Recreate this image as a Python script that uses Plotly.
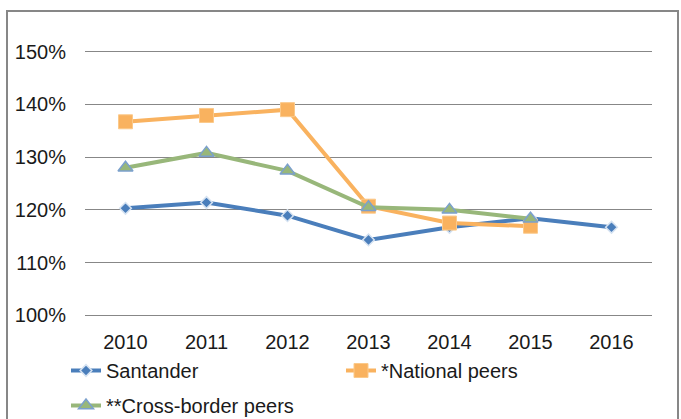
import plotly.graph_objects as go

years = ["2010", "2011", "2012", "2013", "2014", "2015", "2016"]
santander = [120.3, 121.4, 118.9, 114.3, 116.7, 118.4, 116.7]
national_peers = [136.7, 137.9, 139.0, 120.7, 117.5, 116.9]
cross_border = [128.0, 130.8, 127.4, 120.5, 120.0, 118.3]
y_ticks = [100, 110, 120, 130, 140, 150]
y_tick_labels = ["100%", "110%", "120%", "130%", "140%", "150%"]

FONT = "Liberation Sans, Arial, sans-serif"

fig = go.Figure()
fig.add_trace(go.Scatter(
    x=years, y=santander, name="Santander", mode="lines+markers",
    line=dict(color="#4A7EBB", width=4),
    marker=dict(symbol="diamond", size=9, color="#4A7EBB",
                line=dict(color="#D5E2F1", width=1.5)),
    legend="legend",
))
fig.add_trace(go.Scatter(
    x=years[:len(national_peers)], y=national_peers, name="*National peers",
    mode="lines+markers",
    line=dict(color="#F9B25F", width=4),
    marker=dict(symbol="square", size=14, color="#F9B25F",
                line=dict(color="#FBC98A", width=1)),
    legend="legend",
))
fig.add_trace(go.Scatter(
    x=years[:len(cross_border)], y=cross_border, name="**Cross-border peers",
    mode="lines+markers",
    line=dict(color="#98B77A", width=4),
    marker=dict(symbol="triangle-up", size=13, color="#98B77A",
                line=dict(color="#7BA0CD", width=1.5)),
    legend="legend2",
))

L, R, T, B = 85, 29, 49, 101
W, H = 681, 419
pw, ph = W - L - R, H - T - B

def px_x(p):
    return (p - L) / pw

def px_y(p):
    return (H - B - p) / ph

fig.add_shape(type="rect", xref="paper", yref="paper",
              x0=px_x(7), x1=px_x(678), y0=px_y(430), y1=px_y(11),
              line=dict(color="#878787", width=2), fillcolor="rgba(0,0,0,0)",
              layer="below")

fig.update_layout(
    width=W, height=H,
    margin=dict(l=L, r=R, t=T, b=B, pad=0, autoexpand=False),
    paper_bgcolor="white", plot_bgcolor="white",
    font=dict(family=FONT, size=20, color="#1a1a1a"),
    showlegend=True,
    legend=dict(orientation="h", x=px_x(66), y=px_y(351), xanchor="left", yanchor="top",
                entrywidth=230, entrywidthmode="pixels",
                font=dict(family=FONT, size=20, color="#1a1a1a"),
                bgcolor="rgba(0,0,0,0)", itemclick=False),
    legend2=dict(orientation="h", x=px_x(66), y=px_y(386), xanchor="left", yanchor="top",
                 font=dict(family=FONT, size=20, color="#1a1a1a"),
                 bgcolor="rgba(0,0,0,0)", itemclick=False),
    xaxis=dict(type="category", range=[-0.5, 6.5], showgrid=False, zeroline=False,
               showline=False, ticks="", ticklabelstandoff=10,
               tickfont=dict(family=FONT, size=20, color="#1a1a1a")),
    yaxis=dict(range=[99.5, 150.5], tickvals=y_ticks, ticktext=y_tick_labels,
               showgrid=True, gridcolor="#878787", gridwidth=1, zeroline=False,
               showline=False, ticks="", ticklabelstandoff=18,
               tickfont=dict(family=FONT, size=20, color="#1a1a1a")),
)

fig.write_html("out.html", config={"displayModeBar": False},
               post_script="document.body.style.margin='0';document.body.style.overflow='hidden';")
